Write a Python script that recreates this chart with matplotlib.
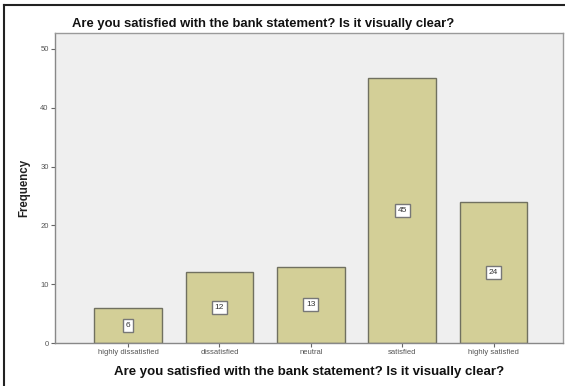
import matplotlib
matplotlib.use("Agg")
import matplotlib.pyplot as plt
from matplotlib.lines import Line2D

plt.rcParams['font.family'] = ['Liberation Sans', 'DejaVu Sans']

categories = ["highly dissatisfied", "dissatisfied", "neutral", "satisfied", "highly satisfied"]
counts = [6, 12, 13, 45, 24]
y_ticks = [0, 10, 20, 30, 40, 50]

title = "Are you satisfied with the bank statement? Is it visually clear?"

W, H = 565, 386
fig = plt.figure(figsize=(W / 100, H / 100), dpi=100)
fig.patch.set_facecolor("white")

# axes box in pixel terms
left, right, top, bottom = 55, 563, 33, 343
ax = fig.add_axes([left / W, 1 - bottom / H, (right - left) / W, (bottom - top) / H])
ax.set_facecolor("#efefef")

x = list(range(len(categories)))
ax.bar(x, counts, width=0.74, color="#d3cf97", edgecolor="#707060", linewidth=1.0, zorder=2)

for xi, v in zip(x, counts):
    ax.text(xi, v / 2, str(v), ha="center", va="center", fontsize=6, color="#333333", zorder=3,
            bbox=dict(boxstyle="square,pad=0.35", facecolor="white", edgecolor="#777777", linewidth=1.0))

ax.set_xlim(-0.8, 4.76)
ax.set_ylim(0, 52.7)
ax.set_yticks(y_ticks)
ax.set_yticklabels([str(t) for t in y_ticks])
ax.set_xticks(x)
ax.set_xticklabels(categories)
ax.tick_params(axis="both", labelsize=5.5, labelcolor="#555555", color="#666666",
               length=3, width=0.8, pad=1.5)

for side in ["left", "right", "top", "bottom"]:
    ax.spines[side].set_color("#9a9a9a")
    ax.spines[side].set_linewidth(1.0)
ax.spines["left"].set_color("#888888")
ax.spines["bottom"].set_color("#888888")

ax.set_ylabel("Frequency", fontsize=8.3, fontweight="bold", color="#222222", labelpad=7)
ax.set_xlabel(title, fontsize=9.5, fontweight="bold", color="#111111", labelpad=7)

fig.text(263 / W, 1 - 24 / H, title, ha="center", va="center", fontsize=9.4,
         fontweight="bold", color="#111111")

# outer frame lines (left and top)
fig.add_artist(Line2D([4 / W, 4 / W], [0, 1 - 5 / H], transform=fig.transFigure, color="#222222", linewidth=1.5))
fig.add_artist(Line2D([4 / W, 1], [1 - 5 / H, 1 - 5 / H], transform=fig.transFigure, color="#222222", linewidth=1.5))

fig.savefig("out.png", dpi=100)
